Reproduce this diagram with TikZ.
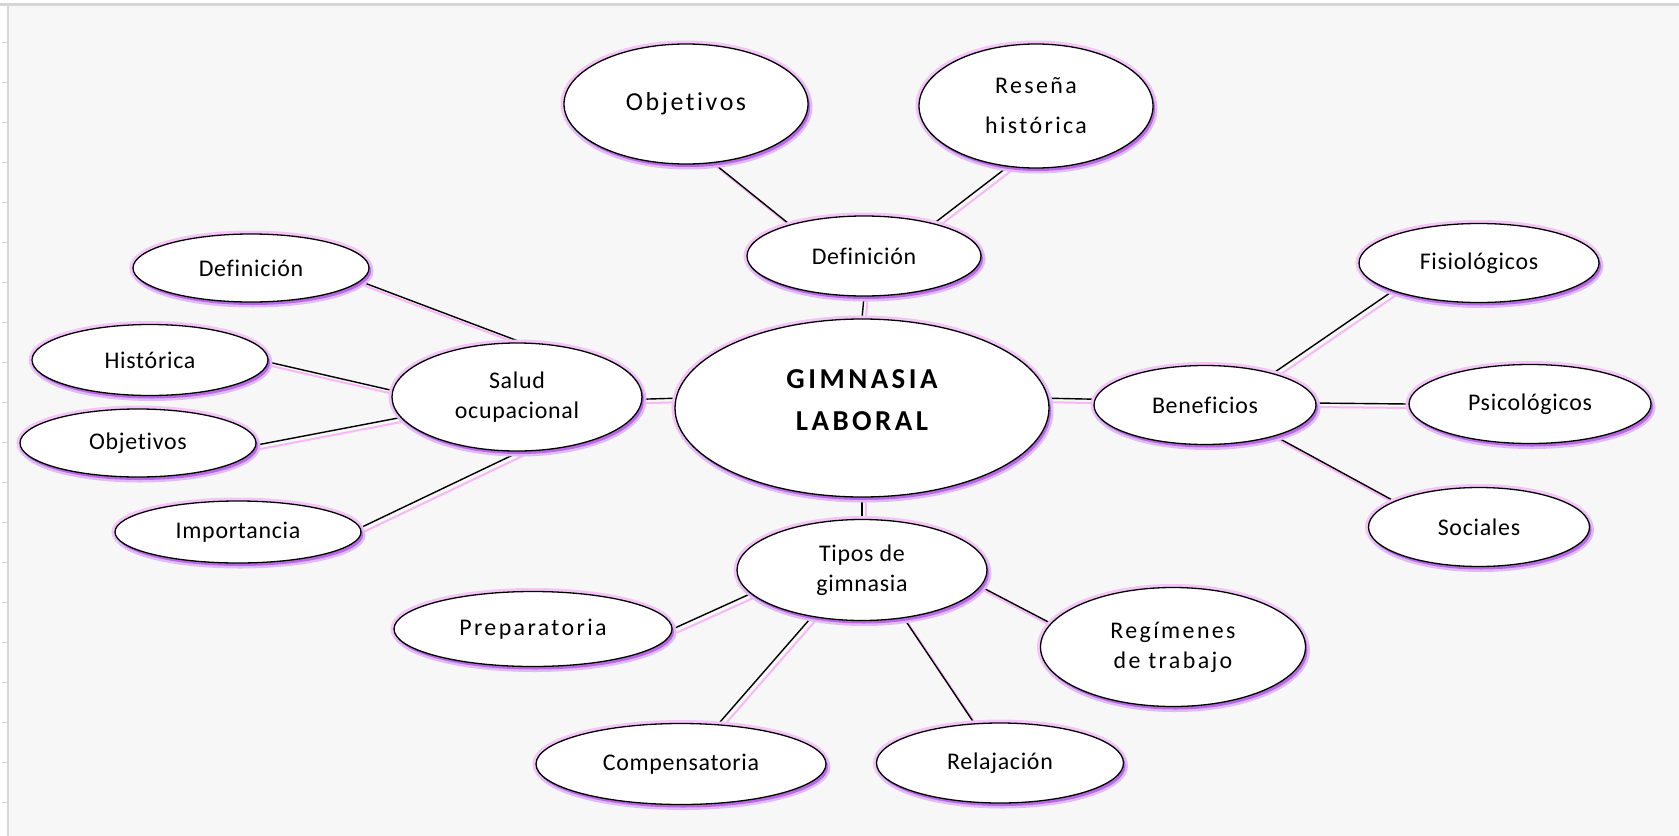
\documentclass[tikz,border=0pt]{standalone}
\usepackage{fontspec}
\setmainfont{Carlito}
\newfontfamily\letranormal[LetterSpace=3,Ligatures=NoCommon]{Carlito}
\newfontfamily\letraancha[LetterSpace=10,Ligatures=NoCommon]{Carlito}
\newfontfamily\letratitulo[LetterSpace=12,Ligatures=NoCommon]{Carlito}
\usepackage{tikz}
\usetikzlibrary{shapes.geometric,shadows,backgrounds}
\definecolor{fondo}{HTML}{F7F7F7}
\definecolor{marco}{HTML}{D6D6D6}
\definecolor{halo}{HTML}{F4C6F8}
\definecolor{sombra}{HTML}{B868E6}
\definecolor{rosa}{HTML}{F7B8F5}

\begin{document}
\begin{tikzpicture}[x=1bp,y=-1bp,
    burbuja/.style={ellipse,draw=black,line width=1.3bp,fill=white,inner sep=0pt,align=center,
      font=\letranormal\fontsize{24}{30}\selectfont,
      preaction={draw=halo,line width=7bp},
      preaction={draw=sombra!45,line width=5bp,transform canvas={shift={(2bp,-3bp)}}},
      drop shadow={shadow xshift=2bp,shadow yshift=-3bp,fill=sombra,opacity=1}},
    ancha/.style={font=\letraancha\fontsize{24}{30}\selectfont},
    tam/.style 2 args={minimum width=#1bp,minimum height=#2bp},
    enlace/.style={every edge/.style={draw=black,line width=1.4bp,
      preaction={draw=rosa,line width=2bp,transform canvas={shift={(3.5bp,-4bp)}}}}}]

    \useasboundingbox (0,0) rectangle (1679,836);

    \node[burbuja,tam={374}{178},text depth=16bp,
          font=\letratitulo\bfseries\fontsize{29}{43}\selectfont] (0) at (862,408) {GIMNASIA\\LABORAL};
    \node[burbuja,tam={234}{80}]            (1)  at (864,256)  {Definición};
    \node[burbuja,tam={244}{120},font=\letraancha\fontsize{26}{30}\selectfont]
                                            (2)  at (686,104)  {Objetivos};
    \node[burbuja,tam={234}{124},font=\letraancha\fontsize{24}{40}\selectfont]
                                            (3)  at (1036,106) {Reseña\\histórica};
    \node[burbuja,tam={250}{108}]           (4)  at (517,397)  {Salud\\ocupacional};
    \node[burbuja,tam={236}{68}]            (5)  at (251,268)  {Definición};
    \node[burbuja,tam={236}{71}]            (6)  at (150,360)  {Histórica};
    \node[burbuja,tam={236}{68}]            (7)  at (138,443)  {Objetivos};
    \node[burbuja,tam={246}{62}]            (8)  at (238,532)  {Importancia};
    \node[burbuja,tam={222}{79}]            (9)  at (1205,405) {Beneficios};
    \node[burbuja,tam={240}{79}]            (10) at (1479,263) {Fisiológicos};
    \node[burbuja,tam={242}{79}]            (11) at (1530,404) {Psicológicos};
    \node[burbuja,tam={221}{79}]            (12) at (1479,527) {Sociales};
    \node[burbuja,tam={250}{101}]           (13) at (862,570)  {Tipos de\\gimnasia};
    \node[burbuja,ancha,tam={278}{75}]      (14) at (533,629)  {Preparatoria};
    \node[burbuja,tam={290}{81}]            (15) at (681,764)  {Compensatoria};
    \node[burbuja,tam={247}{80}]            (16) at (1000,763) {Relajación};
    \node[burbuja,ancha,tam={265}{119}]     (17) at (1173,647) {Regímenes\\de trabajo};

  \begin{scope}[on background layer]
    \fill[white] (0,0) rectangle (1679,836);
    \fill[fondo] (9,6) rectangle (1679,836);
    \draw[marco,line width=2.5bp] (0,4.5) -- (1679,4.5);
    \draw[marco,line width=2.5bp] (8,4) -- (8,836);
    \foreach \y in {42,82,...,802}
      \draw[marco,line width=1bp] (2,\y) -- (7,\y);

  \path[enlace] (2.-65)    edge (1.157)
                (3.-115)   edge (1.25)
                (1.south)  edge (0.north)
                (0.177)    edge (4.-1)
                (4.85)     edge (5.-7)
                (4.177)    edge (6.-1)
                (4.-170)   edge (7.-1)
                (4.-87)    edge (8.2)
                (0.3)      edge (9.177)
                (9.25)     edge (10.-162)
                (9.1)      edge (11.180)
                (9.-24)    edge (12.163)
                (0.south)  edge (13.north)
                (13.-168)  edge (14.0)
                (13.-137)  edge (15.47)
                (13.-49)   edge (16.123)
                (13.-8)    edge (17.169)
                ;
  \end{scope}
\end{tikzpicture}
\end{document}
